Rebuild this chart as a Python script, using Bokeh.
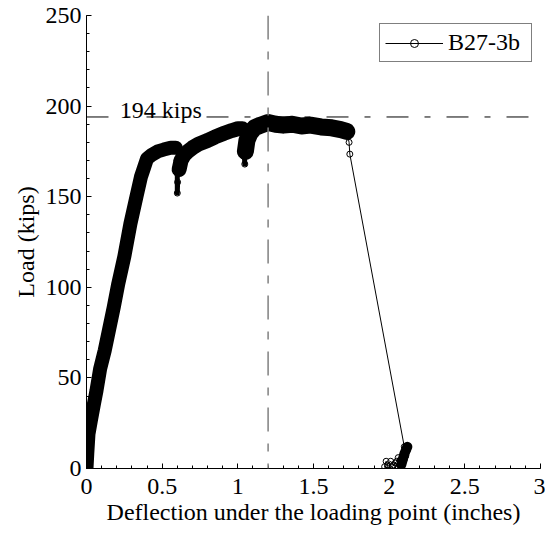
from bokeh.plotting import figure
from bokeh.models import Span, Label, FixedTicker, CustomJSTickFormatter
from bokeh.embed import file_html
from bokeh.resources import INLINE

FONT = "Liberation Serif"

# Load-deflection record of specimen B27-3b (deflection in inches, load in kips)
# First loading branch up to the first load drop
rise1_defl = [0.000, 0.005, 0.013, 0.030, 0.050, 0.066, 0.090, 0.120, 0.150, 0.180, 0.210,
              0.250, 0.290, 0.330, 0.360, 0.380, 0.400, 0.430, 0.470, 0.510, 0.556, 0.590]
rise1_load = [0, 8, 19, 27, 36, 43, 55, 65, 77, 89, 102,
              117, 135, 150, 161, 166, 171, 173, 175, 176, 177, 177]
# First load drop
drop1_defl = [0.598, 0.600, 0.600, 0.602]
drop1_load = [170, 163, 152, 158]
# Second branch
rise2_defl = [0.612, 0.625, 0.645, 0.670, 0.700, 0.740, 0.800, 0.850, 0.910, 0.960, 1.000, 1.030]
rise2_load = [165, 170, 173, 175, 177, 179, 181, 183, 185, 186.5, 187.5, 187.5]
# Second load drop
drop2_defl = [1.040, 1.044, 1.046]
drop2_load = [180, 172, 168]
# Third branch and plateau
rise3_defl = [1.050, 1.060, 1.080, 1.110, 1.150, 1.200, 1.250, 1.300, 1.360, 1.420,
              1.480, 1.550, 1.620, 1.680, 1.720]
rise3_load = [175, 181, 185, 188, 189.5, 191, 190, 189.5, 190, 189,
              189.5, 188.5, 188, 187, 186]
# Failure
fail_defl = [1.735, 1.740]
fail_load = [180, 173.5]
# Residual readings after failure
resid_defl = [2.10, 2.12, 2.11, 2.10, 2.08, 2.06, 2.05, 2.03, 2.01, 1.99, 1.98, 1.97,
              1.99, 2.02, 2.04, 2.06, 2.08, 2.09, 2.10, 2.11, 2.12]
resid_load = [12, 10, 7, 5, 3, 6, 4, 2, 4, 2, 4, 1,
              0, 1, 3, 1, 2, 5, 8, 10, 12]

peak_load = 194      # kips
peak_defl = 1.2      # inches

x_ticks = [0, 0.5, 1, 1.5, 2, 2.5, 3]
x_tick_labels = ["0", "0.5", "1", "1.5", "2", "2.5", "3"]
y_ticks = [0, 50, 100, 150, 200, 250]
y_tick_labels = ["0", "50", "100", "150", "200", "250"]

defl = rise1_defl + drop1_defl + rise2_defl + drop2_defl + rise3_defl + fail_defl + resid_defl
load = rise1_load + drop1_load + rise2_load + drop2_load + rise3_load + fail_load + resid_load

p = figure(width=545, height=535, x_range=(0, 3), y_range=(0, 250),
           output_backend="svg", toolbar_location=None,
           min_border_left=86, min_border_right=5, min_border_top=15, min_border_bottom=67)
p.outline_line_color = None
p.grid.visible = False
p.background_fill_color = "white"
p.border_fill_color = "white"

# dense scatter of readings along each branch drawn as a thick band
bands = [
    (rise1_defl, rise1_load, 14),
    (drop1_defl, drop1_load, 5),
    (rise2_defl, rise2_load, 15),
    (drop2_defl, drop2_load, 5),
    (rise3_defl, rise3_load, 17),
    (resid_defl[-5:], resid_load[-5:], 10),
]
for xs, ys, w in bands:
    p.line(xs, ys, line_color="black", line_width=w, line_join="round", line_cap="round")

p.line(defl, load, line_color="black", line_width=1, legend_label="B27-3b")
p.scatter(defl, load, marker="circle", size=6, fill_color=None, line_color="black",
          line_width=1, legend_label="B27-3b")

p.add_layout(Span(location=peak_load, dimension="width", line_color="black",
                  line_width=1, line_dash="22 16 6 16"))
p.add_layout(Span(location=peak_defl, dimension="height", line_color="#808080",
                  line_width=1.5, line_dash="24 12 8 12"))
p.add_layout(Label(x=0.22, y=198, text=f"{peak_load} kips", text_font=FONT,
                   text_font_size="24px", text_color="black", text_baseline="alphabetic"))

label_code = "const i = positions.indexOf(tick); return i >= 0 ? names[i] : '';"
p.xaxis.ticker = FixedTicker(ticks=x_ticks, minor_ticks=[i / 10 for i in range(31)])
p.yaxis.ticker = FixedTicker(ticks=y_ticks, minor_ticks=list(range(0, 251, 10)))
p.xaxis.formatter = CustomJSTickFormatter(args=dict(positions=x_ticks, names=x_tick_labels),
                                          code=label_code)
p.yaxis.formatter = CustomJSTickFormatter(args=dict(positions=y_ticks, names=y_tick_labels),
                                          code=label_code)
p.xaxis.axis_label = "Deflection under the loading point (inches)"
p.yaxis.axis_label = "Load (kips)"

for ax in (p.xaxis[0], p.yaxis[0]):
    ax.major_tick_in = 5
    ax.major_tick_out = 0
    ax.minor_tick_in = 3
    ax.minor_tick_out = 0
    ax.axis_line_color = "black"
    ax.major_tick_line_color = "black"
    ax.minor_tick_line_color = "black"
    ax.major_label_text_font = FONT
    ax.major_label_text_font_size = "24px"
    ax.major_label_text_color = "black"
    ax.axis_label_text_font = FONT
    ax.axis_label_text_font_size = "24px"
    ax.axis_label_text_font_style = "normal"
    ax.axis_label_text_color = "black"
p.xaxis.major_label_standoff = 10
p.xaxis.axis_label_standoff = 2
p.yaxis.major_label_standoff = 5
p.yaxis.axis_label_standoff = 4

lg = p.legend[0]
lg.location = "top_right"
lg.margin = 8
lg.padding = 5
lg.spacing = 0
lg.border_line_color = "black"
lg.border_line_width = 1
lg.background_fill_alpha = 1
lg.glyph_width = 58
lg.label_standoff = 5
lg.label_width = 78
lg.label_text_font = FONT
lg.label_text_font_size = "24px"
lg.label_text_color = "black"

open("out.html", "w").write(file_html(p, INLINE))
